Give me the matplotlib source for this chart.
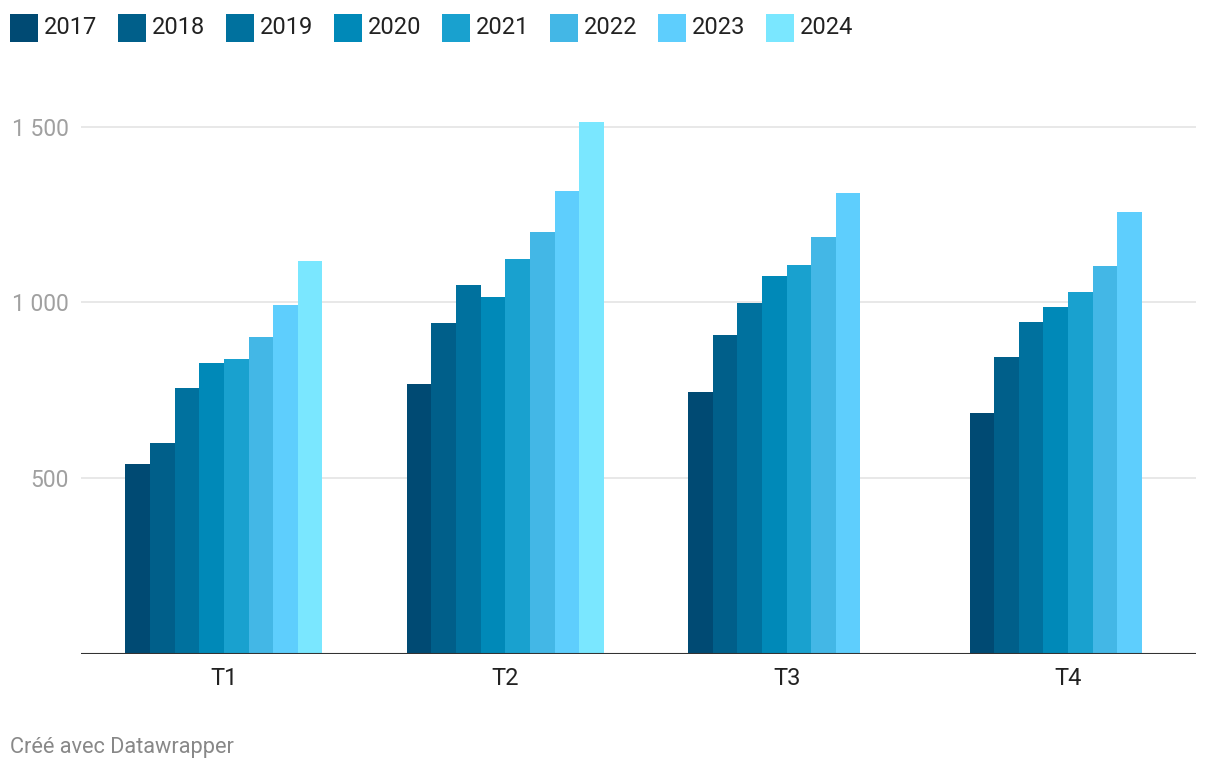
import numpy as np
import matplotlib
matplotlib.use('Agg')
import matplotlib.pyplot as plt
from matplotlib.patches import Rectangle

plt.rcParams['font.family'] = ['Roboto', 'DejaVu Sans']

quarters = ['T1', 'T2', 'T3', 'T4']
years = ['2017', '2018', '2019', '2020', '2021', '2022', '2023', '2024']
colors = ['#004a73', '#005f8a', '#00719e', '#0089b8',
          '#19a1cf', '#43b7e6', '#5ecefd', '#7ae7ff']

# values per year, one entry per quarter (nan = not yet available)
v2017 = [540, 767, 745, 685]
v2018 = [600, 941, 907, 844]
v2019 = [757, 1049, 998, 944]
v2020 = [828, 1015, 1075, 987]
v2021 = [839, 1123, 1106, 1029]
v2022 = [902, 1200, 1186, 1103]
v2023 = [993, 1317, 1311, 1257]
v2024 = [1118, 1513, np.nan, np.nan]
series = [v2017, v2018, v2019, v2020, v2021, v2022, v2023, v2024]

yticks = [500, 1000, 1500]
ytick_labels = ['500', '1 000', '1 500']

fig = plt.figure(figsize=(12.2, 7.74), dpi=100)
ax = fig.add_axes([81 / 1220, 120.5 / 774, 1115 / 1220, 0.726])

x = np.arange(len(quarters))
w = 0.0875
for j, (vals, c) in enumerate(zip(series, colors)):
    ax.bar(x + (j - 3.5) * w, vals, width=w, color=c, linewidth=0, zorder=3)

ax.set_xlim(-0.508, 3.455)
ax.set_ylim(0, 1600)

ax.set_yticks(yticks)
ax.set_yticklabels(ytick_labels)
ax.set_xticks(x)
ax.set_xticklabels(quarters)
ax.grid(axis='y', color='#e6e6e6', linewidth=1.3, zorder=0)
ax.axhline(0, color='#333333', linewidth=1.5, zorder=4)

for s in ['top', 'right', 'left', 'bottom']:
    ax.spines[s].set_visible(False)
ax.tick_params(axis='y', length=0, pad=9, labelsize=16.5, labelcolor='#a0a0a0')
ax.tick_params(axis='x', length=0, pad=9.5, labelsize=17, labelcolor='#222222')

# legend row across the top
for k, (yr, c) in enumerate(zip(years, colors)):
    x0 = 10 + k * 108
    fig.patches.append(Rectangle((x0 / 1220, 1 - 41.7 / 774), 28 / 1220, 28 / 774,
                                 transform=fig.transFigure, color=c, linewidth=0))
    fig.text((x0 + 34) / 1220, 1 - 27.5 / 774, yr, fontsize=17, color='#222222',
             va='center', ha='left')

fig.text(10 / 1220, 1 - 748 / 774, 'Créé avec Datawrapper', fontsize=15.7,
         color='#888888', va='center', ha='left')

fig.savefig('out.png', dpi=100)
